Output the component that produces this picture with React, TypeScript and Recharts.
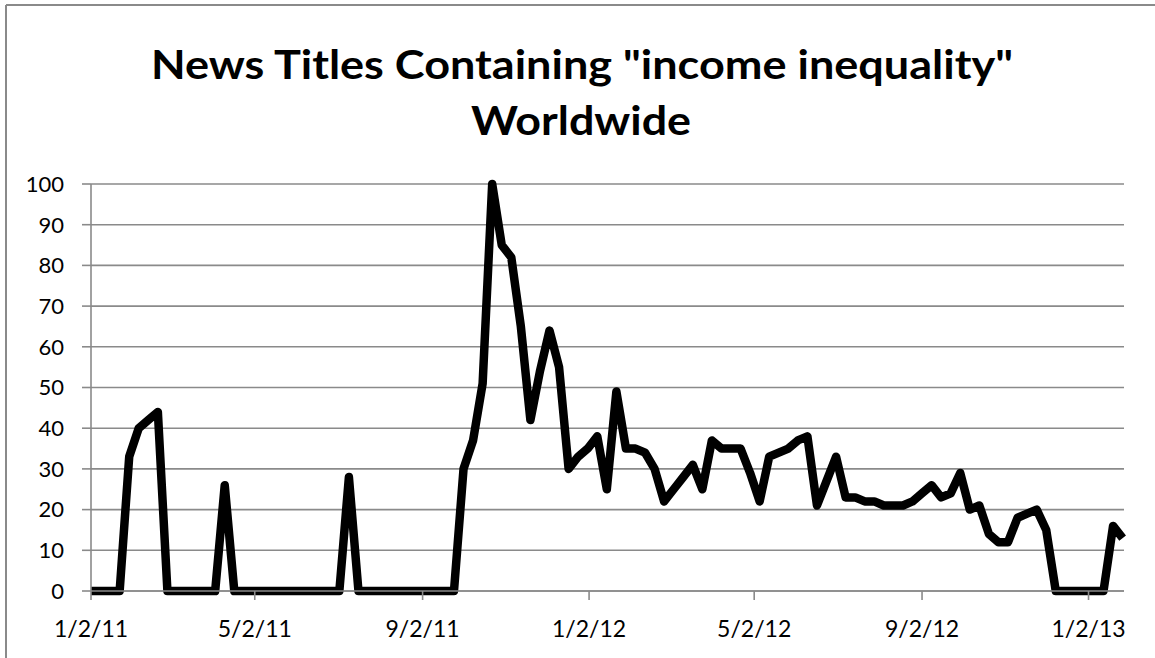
import { LineChart, Line, XAxis, YAxis, CartesianGrid } from 'recharts';

// weekly counts, first week starting 1/2/11
const START = Date.UTC(2011, 0, 2);
const END = Date.UTC(2013, 0, 28);
const WEEK_MS = 7 * 24 * 3600 * 1000;

const WEEKLY_VALUES = [
  0, 0, 0, 0, 33, 40, 42, 44, 0, 0,
  0, 0, 0, 0, 26, 0, 0, 0, 0, 0,
  0, 0, 0, 0, 0, 0, 0, 28, 0, 0,
  0, 0, 0, 0, 0, 0, 0, 0, 0, 30,
  37, 51, 100, 85, 82, 65, 42, 54, 64, 55,
  30, 33, 35, 38, 25, 49, 35, 35, 34, 30,
  22, 25, 28, 31, 25, 37, 35, 35, 35, 29,
  22, 33, 34, 35, 37, 38, 21, 27, 33, 23,
  23, 22, 22, 21, 21, 21, 22, 24, 26, 23,
  24, 29, 20, 21, 14, 12, 12, 18, 19, 20,
  15, 0, 0, 0, 0, 0, 0, 16, 13,
];

const TICK_DATES = [
  [2011, 0, 2], [2011, 4, 2], [2011, 8, 2], [2012, 0, 2],
  [2012, 4, 2], [2012, 8, 2], [2013, 0, 2],
];
const TICK_LABELS = ['1/2/11', '5/2/11', '9/2/11', '1/2/12', '5/2/12', '9/2/12', '1/2/13'];
const Y_TICKS = [0, 10, 20, 30, 40, 50, 60, 70, 80, 90, 100];

const TITLE_LINES = ['News Titles Containing "income inequality"', 'Worldwide'];

const xTicks = TICK_DATES.map(([y, m, d]) => Date.UTC(y, m, d));
const data = WEEKLY_VALUES.map((v, i) => ({ date: START + i * WEEK_MS, value: v }));

const GRID = '#8a8a8a';
const FONT = 'Lato, "Open Sans", sans-serif';

export default function App() {
  return (
    <div style={{ position: 'absolute', left: 0, top: 0, width: 1155, height: 658, background: '#fff' }}>
      <svg width={1155} height={658} style={{ position: 'absolute', left: 0, top: 0 }}>
        <line x1={6} y1={5} x2={1155} y2={5} stroke="#8a8a8a" strokeWidth={2} />
        <line x1={6} y1={5} x2={6} y2={658} stroke="#8a8a8a" strokeWidth={2} />
        <text x={582} y={79} textAnchor="middle" fontFamily={FONT} fontWeight={700} fontSize={41}
          textLength={862} lengthAdjust="spacingAndGlyphs" fill="#000">
          {TITLE_LINES[0]}
        </text>
        <text x={581} y={135} textAnchor="middle" fontFamily={FONT} fontWeight={700} fontSize={41}
          textLength={220} lengthAdjust="spacingAndGlyphs" fill="#000">
          {TITLE_LINES[1]}
        </text>
      </svg>
      <div style={{ position: 'absolute', left: 0, top: 0 }}>
        <LineChart width={1155} height={658} data={data}
          margin={{ top: 184, right: 31, left: 0, bottom: 17 }}>
          <CartesianGrid vertical={false} stroke={GRID} strokeWidth={1.6} />
          <XAxis
            dataKey="date"
            type="number"
            scale="time"
            domain={[START, END]}
            ticks={xTicks}
            tickFormatter={(v: number) => TICK_LABELS[xTicks.indexOf(v)] ?? ''}
            height={50}
            tickSize={9}
            tickMargin={21}
            interval={0}
            stroke={GRID}
            strokeWidth={1.6}
            tick={{ fill: '#000', fontSize: 23, fontFamily: FONT }}
          />
          <YAxis
            domain={[0, 100]}
            ticks={Y_TICKS}
            width={91}
            tickSize={9}
            tickMargin={18}
            interval={0}
            stroke={GRID}
            strokeWidth={1.6}
            tick={{ fill: '#000', fontSize: 22, fontFamily: FONT }}
          />
          <Line
            type="linear"
            dataKey="value"
            stroke="#000"
            strokeWidth={8.5}
            strokeLinejoin="round"
            dot={false}
            activeDot={false}
            isAnimationActive={false}
          />
        </LineChart>
      </div>
    </div>
  );
}
